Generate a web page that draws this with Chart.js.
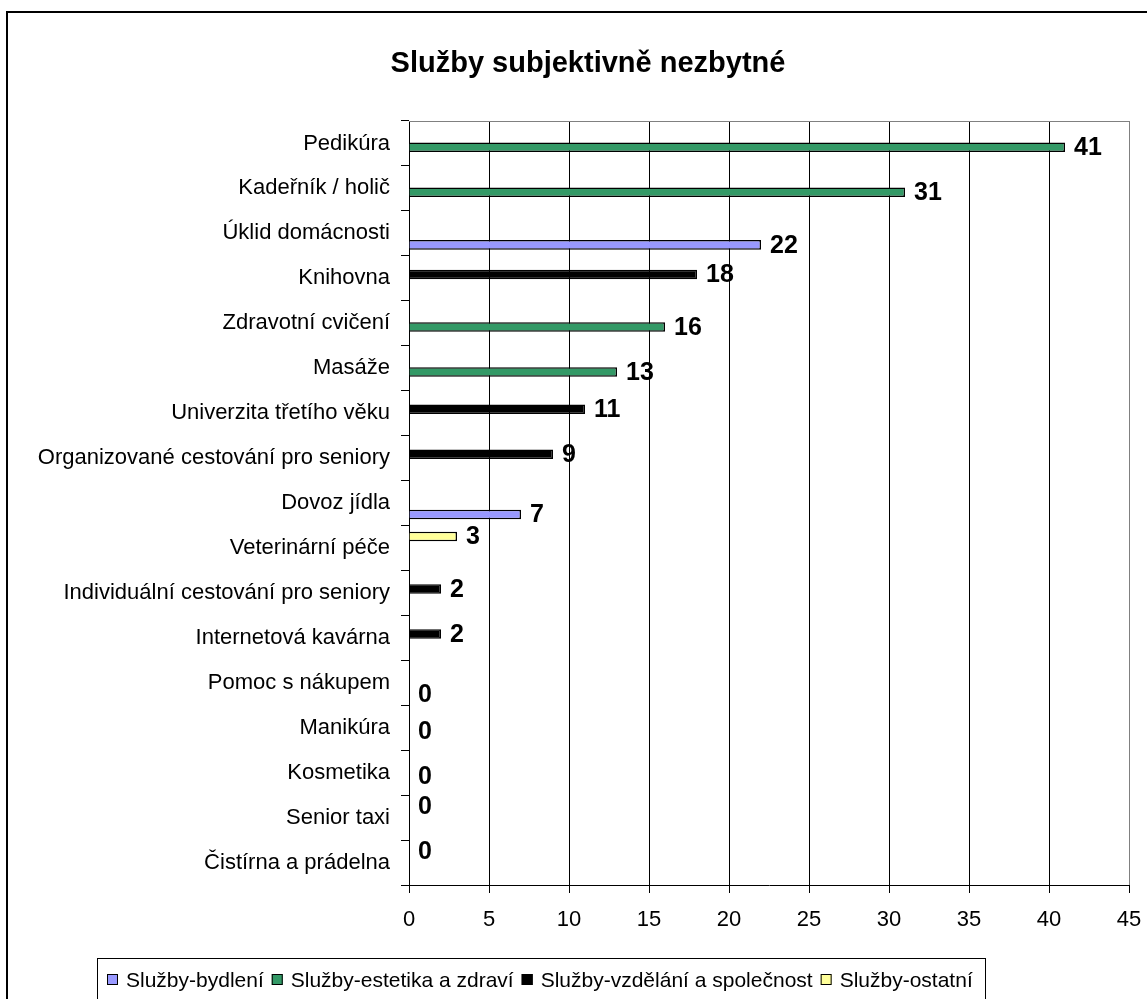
<!DOCTYPE html>
<html>
<head>
<meta charset="utf-8">
<script src="https://cdn.jsdelivr.net/npm/chart.js@4"></script>
<style>
  body { margin: 0; background: #fff; }
  #wrap { position: relative; width: 1147px; height: 999px; }
</style>
</head>
<body>
<div id="wrap"><canvas id="myChart"></canvas></div>
<script>
var title = "Služby subjektivně nezbytné";
var categories = [
  "Pedikúra",
  "Kadeřník / holič",
  "Úklid domácnosti",
  "Knihovna",
  "Zdravotní cvičení",
  "Masáže",
  "Univerzita třetího věku",
  "Organizované cestování pro seniory",
  "Dovoz jídla",
  "Veterinární péče",
  "Individuální cestování pro seniory",
  "Internetová kavárna",
  "Pomoc s nákupem",
  "Manikúra",
  "Kosmetika",
  "Senior taxi",
  "Čistírna a prádelna",
];
var bydleni = [null, null, 22, null, null, null, null, null, 7, null, null, null, 0, null, null, null, null];
var estetika = [41, 31, null, null, 16, 13, null, null, null, null, null, null, null, 0, 0, null, null];
var vzdelani = [null, null, null, 18, null, null, 11, 9, null, null, 2, 2, null, null, null, null, null];
var ostatni = [null, null, null, null, null, null, null, null, null, 3, null, null, null, null, null, 0, 0];
var xMin = 0;
var xMax = 45;
var xStep = 5;

var FONT = "'Liberation Sans', Arial, sans-serif";

// Excel puts series 1 at the bottom of each group, so datasets go in reverse
var series = [
  { label: "Služby-ostatní", data: ostatni, color: "#FFFF99" },
  { label: "Služby-vzdělání a společnost", data: vzdelani, color: "#000000" },
  { label: "Služby-estetika a zdraví", data: estetika, color: "#339966" },
  { label: "Služby-bydlení", data: bydleni, color: "#9999FF" },
];

var extras = {
  id: "extras",
  beforeDraw(chart) {
    var c = chart.ctx;
    c.save();
    c.fillStyle = "#fff";
    c.fillRect(0, 0, chart.width, chart.height);
    c.restore();
  },
  afterDatasetsDraw(chart) {
    var c = chart.ctx;
    c.save();
    c.font = "bold 25px " + FONT;
    c.fillStyle = "#000";
    c.textAlign = "left";
    c.textBaseline = "middle";
    chart.data.datasets.forEach(function (ds, i) {
      var meta = chart.getDatasetMeta(i);
      meta.data.forEach(function (el, j) {
        var v = ds.data[j];
        if (v === null || v === undefined) return;
        c.fillText(String(v), el.x + 9, el.y + 1);
      });
    });
    c.restore();
  },
  afterDraw(chart) {
    var c = chart.ctx;
    var a = chart.chartArea;
    c.save();
    // top border of plot area
    c.strokeStyle = "#808080";
    c.lineWidth = 1;
    c.beginPath();
    c.moveTo(a.left, a.top + 0.5);
    c.lineTo(a.right, a.top + 0.5);
    c.stroke();

    // outer frame
    c.strokeStyle = "#000";
    c.lineWidth = 2;
    c.strokeRect(7, 12, 1300, 1300);

    // title
    c.fillStyle = "#000";
    c.font = "bold 29px " + FONT;
    c.textAlign = "center";
    c.textBaseline = "alphabetic";
    c.fillText(title, 588, 72);

    // legend
    c.lineWidth = 1;
    c.strokeRect(97.5, 958.5, 888, 100);
    c.font = "21px " + FONT;
    c.textAlign = "left";
    var x = 107;
    for (var i = chart.data.datasets.length - 1; i >= 0; i--) {
      var ds = chart.data.datasets[i];
      c.fillStyle = ds.backgroundColor;
      c.fillRect(x, 974, 11, 11);
      c.strokeRect(x + 0.5, 974.5, 10, 10);
      c.fillStyle = "#000";
      c.fillText(ds.label, x + 19, 987);
      x += 19 + c.measureText(ds.label).width + 8;
    }
    c.restore();
  },
};

var ctx = document.getElementById("myChart").getContext("2d");

var myChart = new Chart(ctx, {
  type: "bar",
  data: {
    labels: categories,
    datasets: series.map(function (s) {
      return {
        label: s.label,
        data: s.data,
        backgroundColor: s.color,
        borderColor: "#000",
        borderWidth: 1.5,
        categoryPercentage: 0.683,
        barPercentage: 1.25,
      };
    }),
  },
  options: {
    indexAxis: "y",
    responsive: true,
    maintainAspectRatio: false,
    animation: false,
    layout: { padding: { top: 121, left: 8, right: 18, bottom: 0 } },
    plugins: {
      legend: { display: false },
      title: { display: false },
      tooltip: { enabled: false },
    },
    scales: {
      x: {
        min: xMin,
        max: xMax,
        afterFit: function (scale) {
          scale.height = 999 - 885;
          scale.paddingLeft = 0;
          scale.paddingRight = 0;
        },
        ticks: {
          stepSize: xStep,
          padding: 14,
          color: "#000",
          font: { family: FONT, size: 22 },
        },
        grid: {
          color: function (c) {
            return c.tick && c.tick.value === xMax ? "#808080" : "#000";
          },
          tickColor: "#000",
          tickLength: 8,
          lineWidth: 1,
        },
        border: { color: "#000", width: 1 },
      },
      y: {
        afterFit: function (scale) {
          scale.width = 401;
        },
        ticks: {
          padding: 11,
          color: "#000",
          font: { family: FONT, size: 22 },
        },
        grid: {
          offset: true,
          drawOnChartArea: false,
          color: "#000",
          tickLength: 8,
        },
        border: { color: "#000", width: 1 },
      },
    },
  },
  plugins: [extras],
});
</script>
</body>
</html>
